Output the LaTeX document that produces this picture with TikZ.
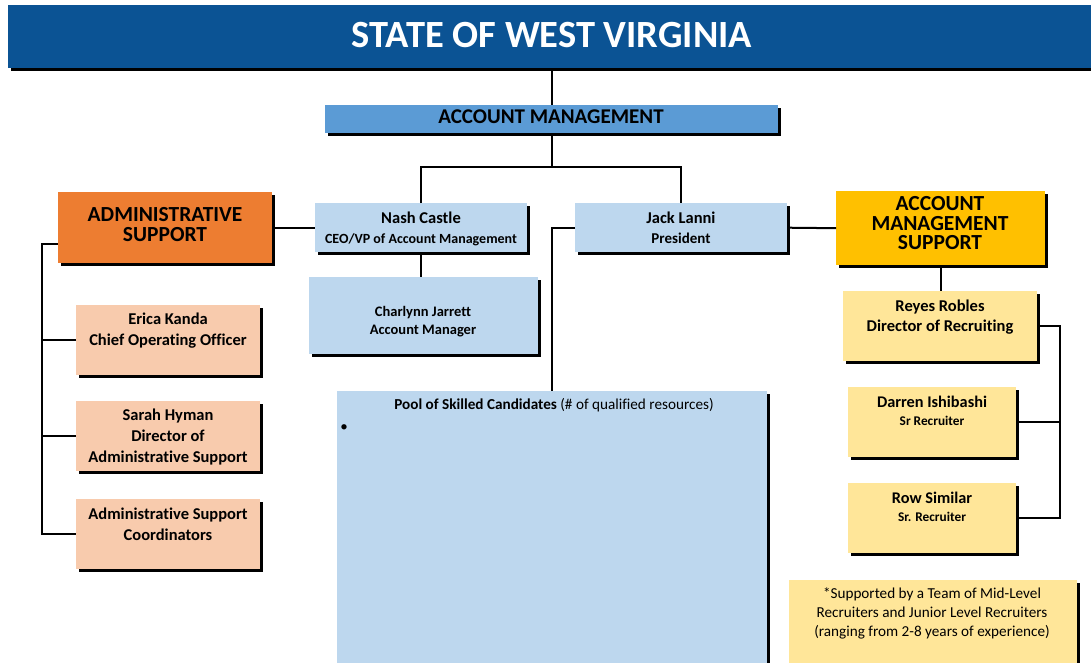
\documentclass[tikz,border=0pt]{standalone}
\usepackage{fontspec}
\setmainfont[Ligatures=NoCommon]{Carlito}
\usetikzlibrary{shadows}
\definecolor{titleblue}{RGB}{11,83,148}
\definecolor{amblue}{RGB}{91,155,213}
\definecolor{lblue}{RGB}{189,215,238}
\definecolor{orng}{RGB}{237,125,49}
\definecolor{peach}{RGB}{248,203,173}
\definecolor{gold}{RGB}{255,192,0}
\definecolor{lyel}{RGB}{255,230,153}
\tikzset{
  box/.style={fill=#1, draw=none, inner sep=0pt, anchor=north west,
    drop shadow={shadow xshift=3pt, shadow yshift=-3pt, opacity=1, fill=black}},
  bx/.style={font=\fontsize{#1}{#1}\selectfont\bfseries, anchor=base, inner sep=0pt},
  rx/.style={font=\fontsize{#1}{#1}\selectfont, anchor=base, inner sep=0pt},
  conn/.style={line width=2pt, draw=black},
}
\begin{document}
\begin{tikzpicture}[x=1pt,y=-1pt]
\useasboundingbox (0,0) rectangle (1091,663);
% boxes
\node[box=titleblue, minimum width=1090, minimum height=63] (title) at (8,5) {};
\node[box=amblue, minimum width=453, minimum height=28] (am) at (325,105) {};
\node[box=lblue, minimum width=212, minimum height=49] (nash) at (315,203) {};
\node[box=lblue, minimum width=212, minimum height=49] (jack) at (575,203) {};
\node[box=orng, minimum width=214, minimum height=71] (admin) at (58,192) {};
\node[box=gold, minimum width=209, minimum height=74] (ams) at (836,191) {};
\node[box=lblue, minimum width=229, minimum height=77] (charl) at (309,277) {};
\node[box=lblue, minimum width=430, minimum height=290] (pool) at (337,391) {};
\node[box=peach, minimum width=184, minimum height=70] (erica) at (76,305) {};
\node[box=peach, minimum width=184, minimum height=70] (sarah) at (76,401) {};
\node[box=peach, minimum width=184, minimum height=70] (coord) at (76,499) {};
\node[box=lyel, minimum width=194, minimum height=70] (reyes) at (843,291) {};
\node[box=lyel, minimum width=168, minimum height=70] (darren) at (848,387) {};
\node[box=lyel, minimum width=168, minimum height=70] (row) at (848,483) {};
\node[box=lyel, minimum width=288, minimum height=100] (note) at (789,580) {};
% texts
\node[bx=38.5, text=white] (tt) at (552,48) {STATE OF WEST VIRGINIA};
\node[bx=21] (amt) at (551,123.5) {ACCOUNT MANAGEMENT};
\node[bx=21.5] (ad1) at (165,221) {ADMINISTRATIVE};
\node[bx=21.5] (ad2) at (165,241) {SUPPORT};
\node[bx=21.5] (ams1) at (940,210) {ACCOUNT};
\node[bx=21.5] (ams2) at (940,230) {MANAGEMENT};
\node[bx=21.5] (ams3) at (940,249.5) {SUPPORT};
\node[bx=16.5] (n1) at (421,223.5) {Nash Castle};
\node[bx=14] (n2) at (421,243.5) {CEO/VP of Account Management};
\node[bx=16.5] (j1) at (681,223.5) {Jack Lanni};
\node[bx=15] (j2) at (681,243.5) {President};
\node[bx=14.5] (c1) at (423,316) {Charlynn Jarrett};
\node[bx=14.5] (c2) at (423,334.5) {Account Manager};
\node[bx=16.5] (e1) at (168,324.5) {Erica Kanda};
\node[bx=16.5] (e2) at (168,345.5) {Chief Operating Officer};
\node[bx=16.5] (s1) at (168,420.5) {Sarah Hyman};
\node[bx=16.5] (s2) at (168,441.5) {Director of};
\node[bx=16.5] (s3) at (168,462) {Administrative Support};
\node[bx=16.5] (co1) at (168,519.5) {Administrative Support};
\node[bx=16.5] (co2) at (168,540) {Coordinators};
\node[bx=16.5] (r1) at (940,311) {Reyes Robles};
\node[bx=16.5] (r2) at (940,331.5) {Director of Recruiting};
\node[bx=16.3] (d1) at (932,407.5) {Darren Ishibashi};
\node[bx=13.3] (d2) at (932,425.5) {Sr Recruiter};
\node[bx=16.3] (w1) at (932,503.5) {Row Similar};
\node[bx=13.3] (w2) at (932,521.5) {Sr. Recruiter};
\node[rx=15.2] (p1) at (554,409.5) {\textbf{Pool of Skilled Candidates} (\# of qualified resources)};
\node[rx=15] (pb) at (344,431) {\textbullet};
\node[rx=15.2] (no1) at (932,598) {*Supported by a Team of Mid-Level};
\node[rx=15.2] (no2) at (932,617.5) {Recruiters and Junior Level Recruiters};
\node[rx=15.2] (no3) at (932,636.5) {(ranging from 2-8 years of experience)};
% connectors
\coordinate (lsp) at (42,0);
\coordinate (rsp) at (1060,0);
\draw[conn] (am.north) -- (am.north |- title.south);
\draw[conn] (am.south) -- ++(0,34) coordinate (amj);
\draw[conn] (nash.north) |- (amj) -| (jack.north);
\draw[conn] (admin.east) -- (nash.west);
\draw[conn] (jack.east) -- (ams.west);
\draw[conn] (nash.south) -- (nash.south |- charl.north);
\draw[conn] (jack.west) -| (pool.north);
\draw[conn] ([yshift=-16pt]admin.west) -| (lsp |- coord.west) -- (coord.west);
\draw[conn] (erica.west) -- (erica.west -| lsp);
\draw[conn] (sarah.west) -- (sarah.west -| lsp);
\draw[conn] (ams.south) -- (ams.south |- reyes.north);
\draw[conn] (reyes.east) -| (rsp |- row.east) -- (row.east);
\draw[conn] (darren.east) -- (darren.east -| rsp);
\end{tikzpicture}
\end{document}
